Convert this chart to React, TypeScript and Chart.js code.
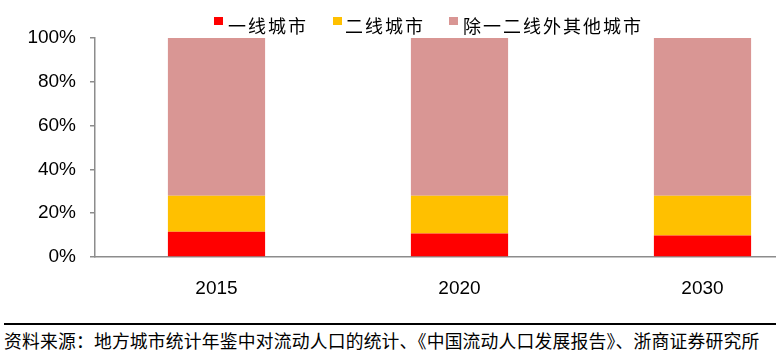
import React, { useEffect, useRef } from "react";
import { Chart, registerables } from "chart.js";

Chart.register(...registerables);

const categories = ["2015", "2020", "2030"];
const tier1 = [11.5, 10.7, 9.8];
const tier2 = [16.5, 17.3, 18.2];
const others = [72.0, 72.0, 72.0];
const seriesNames = ["一线城市", "二线城市", "除一二线外其他城市"];
const seriesColors = ["#FF0000", "#FFC000", "#D99694"];
const yTicks = [0, 20, 40, 60, 80, 100];
const sourceText = "资料来源：地方城市统计年鉴中对流动人口的统计、《中国流动人口发展报告》、浙商证券研究所";

const legendPos = [
  { sq: 214, tx: 228 },
  { sq: 333, tx: 345 },
  { sq: 449, tx: 463 },
];

export default function App() {
  const ref = useRef<HTMLCanvasElement | null>(null);
  useEffect(() => {
    const canvas = ref.current;
    if (!canvas) return;
    const chart = new Chart(canvas, {
      type: "bar",
      data: {
        labels: categories,
        datasets: [
          { label: seriesNames[0], data: tier1, backgroundColor: seriesColors[0] },
          { label: seriesNames[1], data: tier2, backgroundColor: seriesColors[1] },
          { label: seriesNames[2], data: others, backgroundColor: seriesColors[2] },
        ],
      },
      options: {
        responsive: false,
        animation: false,
        layout: { padding: { top: 38, right: 6, left: 0, bottom: 0 } },
        datasets: { bar: { barPercentage: 0.4, categoryPercentage: 1 } },
        plugins: { legend: { display: false }, tooltip: { enabled: false } },
        scales: {
          x: {
            stacked: true,
            grid: { display: false },
            border: { display: true, color: "#8c8c8c", width: 1.5 },
            ticks: {
              color: "#000",
              font: { family: "Liberation Sans, Arial, sans-serif", size: 19 },
              padding: 12,
              maxRotation: 0,
            },
            afterFit: (s: any) => {
              s.height = 53;
            },
          },
          y: {
            stacked: true,
            min: 0,
            max: 100,
            afterBuildTicks: (s: any) => {
              s.ticks = yTicks.map((v) => ({ value: v }));
            },
            grid: {
              display: true,
              drawOnChartArea: false,
              drawTicks: true,
              tickLength: 5,
              color: "#8c8c8c",
              lineWidth: 1.5,
            },
            border: { display: true, color: "#8c8c8c", width: 1.5 },
            ticks: {
              color: "#000",
              font: { family: "Liberation Sans, Arial, sans-serif", size: 19 },
              padding: 14,
              callback: (v: any) => v + "%",
            },
            afterFit: (s: any) => {
              s.width = 95;
            },
          },
        },
      },
    });
    return () => chart.destroy();
  }, []);

  const cjk = '"Noto Sans CJK SC", sans-serif';
  return (
    <div
      style={{
        position: "fixed",
        left: 0,
        top: 0,
        width: 776,
        height: 355,
        overflow: "hidden",
        background: "#fff",
      }}
    >
      <canvas
        ref={ref}
        width={830}
        height={310}
        style={{ position: "absolute", left: 0, top: 0, width: 830, height: 310 }}
      />
      {seriesNames.map((n, i) => (
        <React.Fragment key={n}>
          <div
            style={{
              position: "absolute",
              left: legendPos[i].sq,
              top: 17,
              width: 9,
              height: 8,
              background: seriesColors[i],
            }}
          />
          <div
            style={{
              position: "absolute",
              left: legendPos[i].tx,
              top: 14,
              fontFamily: cjk,
              fontSize: 18,
              lineHeight: "22px",
              letterSpacing: 2,
              color: "#000",
              whiteSpace: "nowrap",
            }}
          >
            {n}
          </div>
        </React.Fragment>
      ))}
      <div
        style={{
          position: "absolute",
          left: 4,
          right: 0,
          top: 323,
          height: 2,
          background: "#000",
        }}
      />
      <div
        style={{
          position: "absolute",
          left: 4,
          top: 329,
          fontFamily: cjk,
          fontSize: 17.8,
          lineHeight: "22px",
          letterSpacing: 0.2,
          color: "#000",
          whiteSpace: "nowrap",
        }}
      >
        {sourceText}
      </div>
    </div>
  );
}
